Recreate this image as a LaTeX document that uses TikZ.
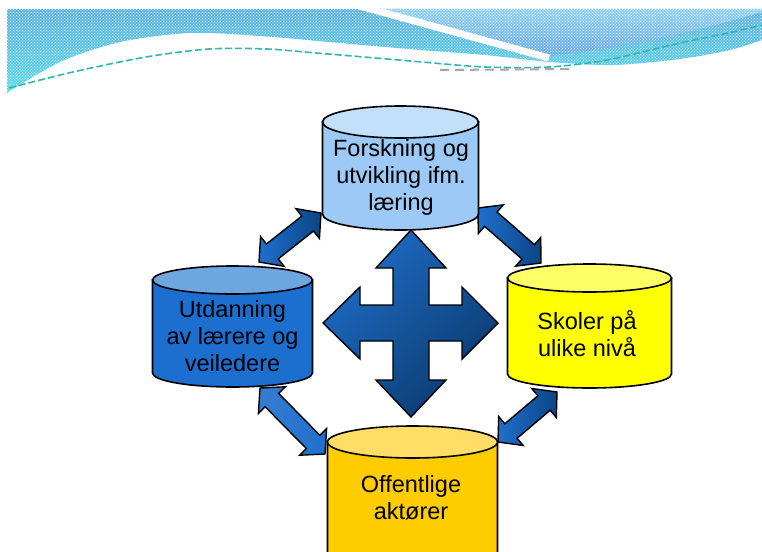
\documentclass[tikz,border=0pt]{standalone}
\usepackage{fontspec}
\setmainfont{Liberation Sans}
\usetikzlibrary{calc,patterns}

\definecolor{bandtop}{HTML}{5CB2E0}
\definecolor{bandbot}{HTML}{58DCEE}
\definecolor{wavetop}{HTML}{92D2F2}
\definecolor{wavebot}{HTML}{64AAE8}
\definecolor{dashteal}{HTML}{2FB8B0}
\definecolor{arrlight}{HTML}{1F6FCC}
\definecolor{arrdark}{HTML}{0B4585}
\definecolor{crosslight}{HTML}{1E6CC4}
\definecolor{crossdark}{HTML}{0B3A6E}
\definecolor{forskbody}{HTML}{9CC9F5}
\definecolor{forskcap}{HTML}{C3E0FB}
\definecolor{utdbody}{HTML}{1C6FCF}
\definecolor{utdcap}{HTML}{6EA6E0}
\definecolor{skolebody}{HTML}{FFFF00}
\definecolor{skolecap}{HTML}{FFFF66}
\definecolor{offbody}{HTML}{FFCC00}
\definecolor{offcap}{HTML}{FFDD66}

\tikzset{
  cylline/.style={draw=black, line width=1.6pt},
  lbl/.style={align=center, font=\fontsize{23.5}{27}\selectfont, inner sep=0pt, text=black},
  dblarr/.style={draw=black, line width=1.4pt, line join=miter, left color=arrlight, right color=arrdark},
}

% cylinder: centre x, top-ellipse y, bottom-ellipse y, x radius, y radius, body colour, cap colour (y measured downwards)
\newcommand\drawcyl[7]{%
  \filldraw[fill=#6, cylline] (#1-#4,-#2) -- (#1-#4,-#3)
    arc[start angle=180, end angle=360, x radius=#4pt, y radius=#5pt]
    -- (#1+#4,-#2) -- cycle;
  \filldraw[fill=#7, cylline] (#1,-#2) ellipse[x radius=#4pt, y radius=#5pt];
}

% double-headed block arrow between two named points
\newcommand\hl{17pt}
\newcommand\hw{19pt}
\newcommand\sw{9.5pt}
\newcommand\dblarrow[3][]{%
  \path[dblarr,#1] (#2)
    -- ($(#2)!\hl!(#3)!\hw!90:(#3)$)
    -- ($(#2)!\hl!(#3)!\sw!90:(#3)$)
    -- ($(#3)!\hl!(#2)!\sw!-90:(#2)$)
    -- ($(#3)!\hl!(#2)!\hw!-90:(#2)$)
    -- (#3)
    -- ($(#3)!\hl!(#2)!\hw!90:(#2)$)
    -- ($(#3)!\hl!(#2)!\sw!90:(#2)$)
    -- ($(#2)!\hl!(#3)!\sw!-90:(#3)$)
    -- ($(#2)!\hl!(#3)!\hw!-90:(#3)$)
    -- cycle;
}

\begin{document}
\begin{tikzpicture}[x=1pt, y=1pt]
\useasboundingbox (0,0) rectangle (762,-551);
\fill[white] (0,0) rectangle (762,-551);
\clip (0,0) rectangle (762,-551);

% ---- header wave ----
\path[top color=bandtop, bottom color=bandbot,
      postaction={pattern=crosshatch dots, pattern color=white}]
  (7,-9) -- (762,-9) -- plot[smooth] coordinates {
    (762,-40) (730,-50) (680,-59) (613,-65) (550,-62) (485,-55)
    (420,-50) (340,-43) (260,-36) (190,-33) (120,-42) (60,-62) (7,-93)}
  -- cycle;
\path[top color=wavetop, bottom color=wavebot,
      postaction={pattern=crosshatch dots, pattern color=white}]
  (376,-9) -- (762,-9) -- (762,-12)
  .. controls (700,-30) and (620,-50) .. (547,-56) -- cycle;
\draw[white, line width=7pt] (356,-5) -- (549,-58);
\draw[dashteal, line width=1.6pt, dash pattern=on 7pt off 3pt]
  plot[smooth] coordinates {
    (9,-88) (73,-72) (146,-57) (209,-49) (267,-49) (316,-53) (364,-57)
    (422,-62) (485,-67) (549,-67) (607,-60) (680,-43) (728,-33) (762,-25)};
\draw[gray!70, line width=2pt, dash pattern=on 9pt off 6pt]
  (440,-70) -- (575,-69);

% ---- end points of the connecting arrows ----
\coordinate (tlA) at (259,-262);
\coordinate (tlB) at (321,-213);
\coordinate (trA) at (478,-208);
\coordinate (trB) at (541,-263);
\coordinate (blA) at (260,-388);
\coordinate (blB) at (325,-454);
\coordinate (brA) at (498,-442);
\coordinate (brB) at (557,-392);

\dblarrow{tlA}{tlB}
\dblarrow{trA}{trB}
\dblarrow[left color=arrlight!90!white, right color=arrlight]{blA}{blB}
\dblarrow{brA}{brB}

% ---- central four-way arrow ----
\path[draw=black, line width=1.4pt, line join=miter,
      top color=crosslight, bottom color=crossdark, shading angle=45]
  (411,-230) -- (446,-268) -- (429,-268) -- (429,-305) -- (462,-305)
  -- (462,-287) -- (498,-323) -- (462,-359) -- (462,-341) -- (429,-341)
  -- (429,-380) -- (446,-380) -- (411,-417) -- (376,-380) -- (393,-380)
  -- (393,-341) -- (360,-341) -- (360,-359) -- (323,-323) -- (360,-287)
  -- (360,-305) -- (393,-305) -- (393,-268) -- (376,-268) -- cycle;

% ---- cylinders ----
\drawcyl{400.5}{122}{214}{78}{16}{forskbody}{forskcap}
\drawcyl{232.5}{280}{373}{80}{14}{utdbody}{utdcap}
\drawcyl{589.5}{278}{374}{82}{14}{skolebody}{skolecap}
\drawcyl{412.5}{442}{600}{85}{16}{offbody}{offcap}

\node[lbl] (forsk) at (401,-177.5) {Forskning og\\utvikling ifm.\\læring};
\node[lbl] (utd)   at (232.5,-336) {Utdanning\\av lærere og\\veiledere};
\node[lbl] (skole) at (587,-334)   {Skoler på\\ulike nivå};
\node[lbl] (off)   at (411,-498)   {Offentlige\\aktører};
\end{tikzpicture}
\end{document}
